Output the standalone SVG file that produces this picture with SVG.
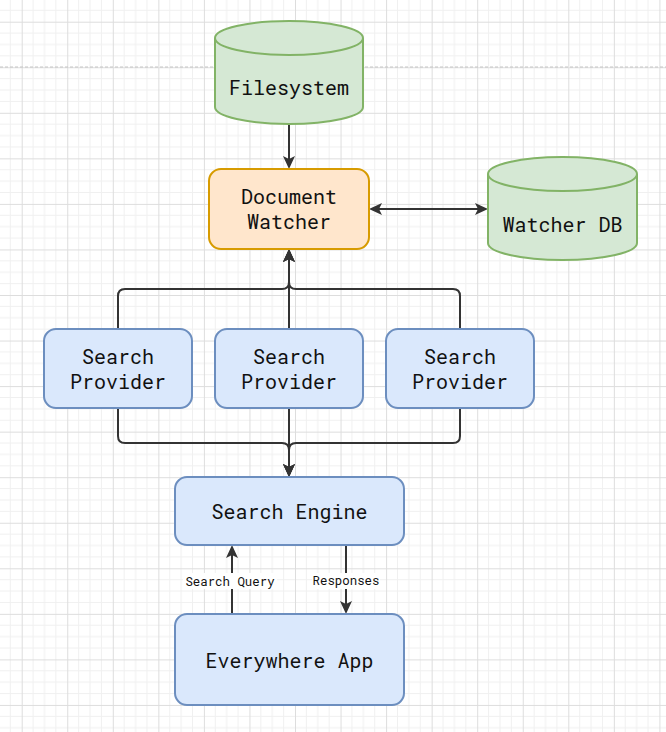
<svg xmlns="http://www.w3.org/2000/svg" width="666" height="732" viewBox="0 0 666 732">
<style>
.t{font-family:"Roboto Mono","DejaVu Sans Mono","Liberation Mono",monospace;font-size:20px;fill:#111111;text-anchor:middle}
.s{font-family:"Roboto Mono","DejaVu Sans Mono","Liberation Mono",monospace;font-size:12.4px;fill:#111111;text-anchor:middle}
.blue{fill:#dae8fc;stroke:#6c8ebf;stroke-width:2}
.orange{fill:#ffe6cc;stroke:#d79b00;stroke-width:2}
.green{fill:#d5e8d4;stroke:#82b366;stroke-width:2}
.c{fill:none;stroke:#333333;stroke-width:2}
.ae{marker-end:url(#arr)}
</style>
<defs>
<pattern id="grid" x="21.7" y="21.7" width="45.55" height="45.55" patternUnits="userSpaceOnUse">
<path d="M11.39,0V45.55M22.78,0V45.55M34.16,0V45.55M0,11.39H45.55M0,22.78H45.55M0,34.16H45.55" stroke="#f0f0f0" stroke-width="1" fill="none"/>
<path d="M0.5,0V45.55M0,0.5H45.55" stroke="#dddddd" stroke-width="1" fill="none"/>
</pattern>
<marker id="arr" markerUnits="userSpaceOnUse" markerWidth="14" markerHeight="13" refX="3" refY="6" orient="auto-start-reverse">
<path d="M0,0 L13,6 L0,12 L3,6 Z" fill="#333333"/>
</marker>
</defs>
<rect width="666" height="732" fill="#ffffff"/>
<rect width="666" height="732" fill="url(#grid)"/>
<line x1="0" y1="67" x2="666" y2="67" stroke="#c4c4c4" stroke-width="1" stroke-dasharray="3 2"/>

<g id="connectors">
<path class="c ae" d="M289,124 V159"/>
<path class="c ae" d="M379,209 H478" marker-start="url(#arr)"/>
<path class="c ae" d="M118,329 V296 Q118,289 125,289 H282 Q289,289 289,282 V259"/>
<path class="c ae" d="M289,329 V259"/>
<path class="c ae" d="M460,329 V296 Q460,289 453,289 H296 Q289,289 289,282 V259"/>
<path class="c ae" d="M118,408 V436 Q118,443 125,443 H282 Q289,443 289,450 V467"/>
<path class="c ae" d="M289,408 V467"/>
<path class="c ae" d="M460,408 V436 Q460,443 453,443 H296 Q289,443 289,450 V467"/>
<path class="c ae" d="M232,614 V555"/>
<path class="c ae" d="M346,545 V604"/>
<rect x="183" y="573" width="94" height="16" fill="#ffffff"/>
<text class="s" x="230" y="585.5">Search Query</text>
<rect x="312" y="573" width="68" height="16" fill="#ffffff"/>
<text class="s" x="346" y="585">Responses</text>
</g>

<g id="filesystem">
<path class="green" d="M215,38 A74,17 0 0 1 363,38 V107 A74,17 0 0 1 215,107 Z"/>
<path class="green" fill="none" d="M215,38 A74,17 0 0 0 363,38"/>
<text class="t" x="289" y="95">Filesystem</text>
</g>

<g id="document-watcher">
<rect class="orange" x="209" y="169" width="160" height="80" rx="12"/>
<text class="t" x="289" y="204">Document</text>
<text class="t" x="289" y="229">Watcher</text>
</g>

<g id="watcher-db">
<path class="green" d="M488,174 A74.5,17 0 0 1 637,174 V243 A74.5,17 0 0 1 488,243 Z"/>
<path class="green" fill="none" d="M488,174 A74.5,17 0 0 0 637,174"/>
<text class="t" x="562.5" y="232">Watcher DB</text>
</g>

<g id="provider-1">
<rect class="blue" x="44" y="329" width="148" height="79" rx="12"/>
<text class="t" x="118" y="364">Search</text>
<text class="t" x="118" y="388.5">Provider</text>
</g>
<g id="provider-2">
<rect class="blue" x="215" y="329" width="148" height="79" rx="12"/>
<text class="t" x="289" y="364">Search</text>
<text class="t" x="289" y="388.5">Provider</text>
</g>
<g id="provider-3">
<rect class="blue" x="386" y="329" width="148" height="79" rx="12"/>
<text class="t" x="460" y="364">Search</text>
<text class="t" x="460" y="388.5">Provider</text>
</g>

<g id="search-engine">
<rect class="blue" x="175" y="477" width="229" height="68" rx="12"/>
<text class="t" x="289.5" y="519">Search Engine</text>
</g>

<g id="everywhere-app">
<rect class="blue" x="175" y="614" width="229" height="91" rx="12"/>
<text class="t" x="289.5" y="668">Everywhere App</text>
</g>
</svg>
